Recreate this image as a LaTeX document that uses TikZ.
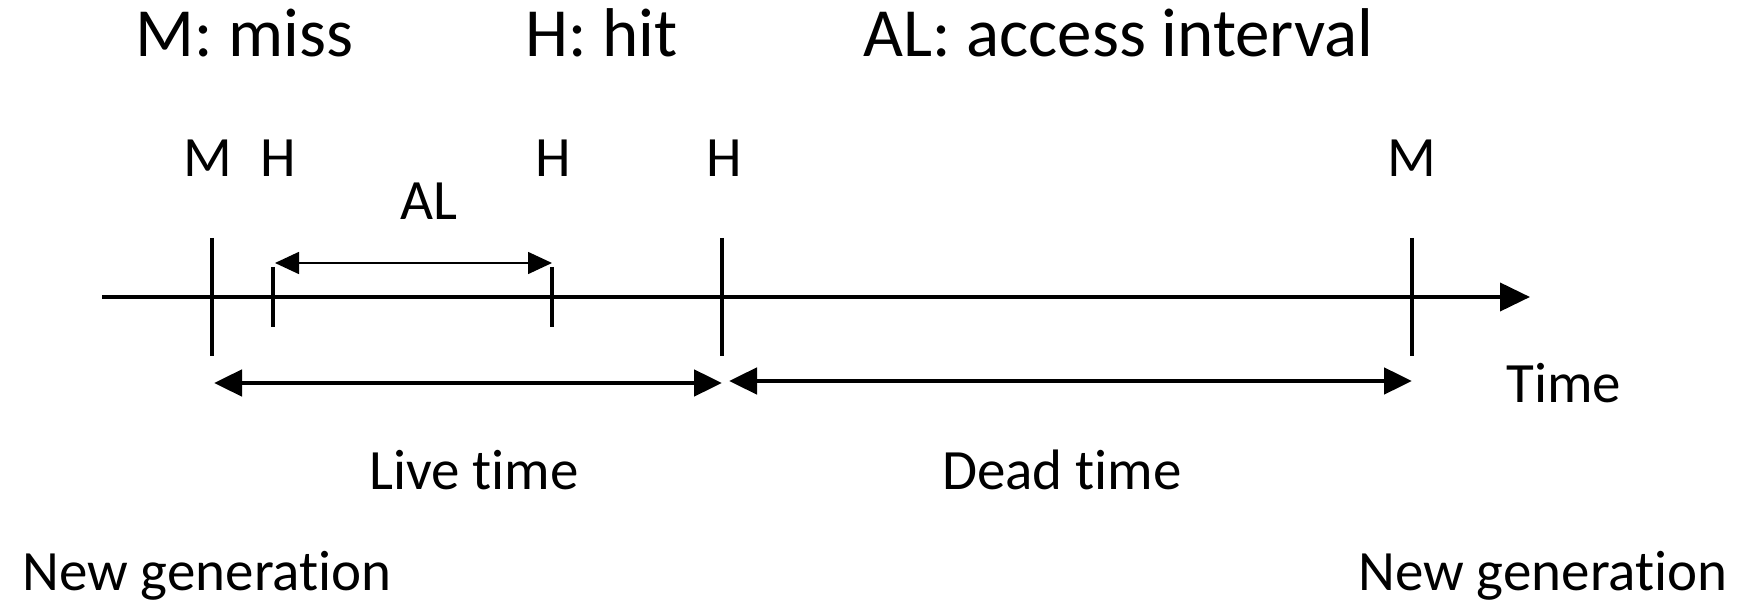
\documentclass[tikz,border=0pt]{standalone}
\usepackage{fontspec}
\setmainfont{Carlito}[Ligatures=NoCommon]
\usetikzlibrary{arrows.meta,calc}
\tikzset{
  legend/.style  = {anchor=base west, inner sep=0pt, font=\fontsize{34.5}{40}\selectfont},
  lbl/.style     = {anchor=base, inner sep=0pt, font=\fontsize{28.5}{34}\selectfont},
  tickmark/.style = {line width=2pt},
  timeaxis/.style = {line width=2pt, -{Triangle[length=15pt,width=14pt]}},
  span/.style    = {line width=2.4pt, {Triangle[length=14pt,width=13pt]}-{Triangle[length=14pt,width=13pt]}},
  gap/.style     = {line width=0.8pt, {Triangle[length=12pt,width=11pt]}-{Triangle[length=12pt,width=11pt]}},
}

\begin{document}
\begin{tikzpicture}[x=0.5pt, y=-0.5pt]
  \useasboundingbox (0,0) rectangle (1740,603);

  % legend
  \node[legend] (kM)  at (135,57) {M: miss};
  \node[legend] (kH)  at (525,57) {H: hit};
  \node[legend] (kAL) at (863,57) {AL: access interval};

  % time axis
  \coordinate (start) at (102,297);
  \coordinate (end)   at (1530,297);
  \draw[timeaxis] (start) -- (end);
  \node[lbl, anchor=base west] (time) at (1506,403) {Time};

  % accesses on the axis: name/x/half length
  \foreach \n/\x/\h in {m1/212/59, h1/273/30, h2/552/30, h3/722/59, m2/1412/59} {
    \coordinate (\n) at (\x,297);
    \draw[tickmark] ($(\n)+(0,-\h)$) -- ($(\n)+(0,\h)$);
  }

  % access labels
  \node[lbl] (lm1) at (208,177) {M};
  \node[lbl] (lh1) at (278,177) {H};
  \node[lbl] (lh2) at (553,177) {H};
  \node[lbl] (lh3) at (724,177) {H};
  \node[lbl] (lm2) at (1412,177) {M};

  % access interval between the two hits
  \draw[gap] ($(h1)+(2,-34)$) -- ($(h2)+(0,-34)$);
  \node[lbl] (al) at (429,220) {AL};

  % live and dead time
  \draw[span] ($(m1)+(2,86)$) -- ($(h3)+(0,86)$);
  \draw[span] ($(h3)+(7,84)$) -- ($(m2)+(0,84)$);
  \node[lbl] (live) at (474,490) {Live time};
  \node[lbl] (dead) at (1062,490) {Dead time};

  % generations
  \node[lbl, anchor=base west] (gen1) at (22,590) {New generation};
  \node[lbl, anchor=base east] (gen2) at (1728,590) {New generation};
\end{tikzpicture}
\end{document}
